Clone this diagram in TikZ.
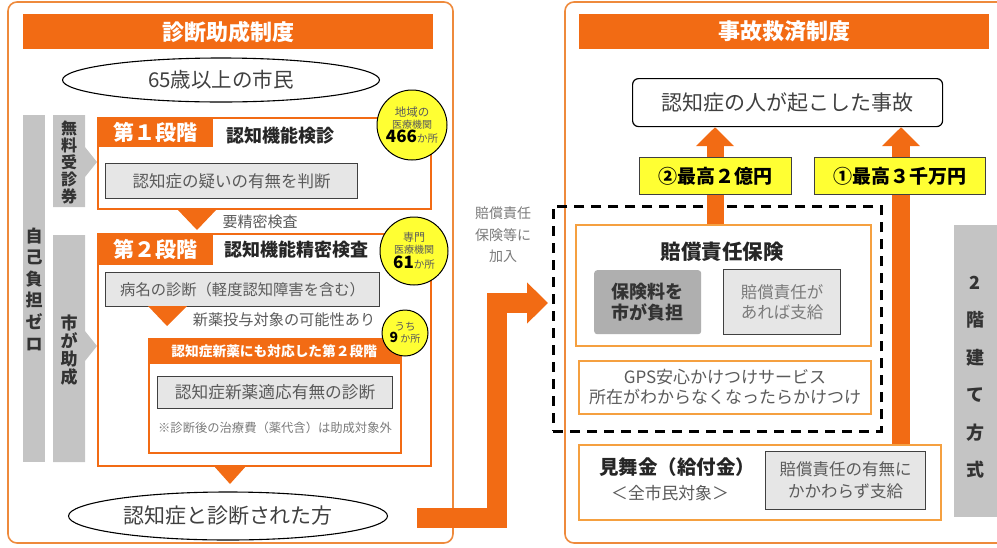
\documentclass[tikz,border=0pt]{standalone}
\usepackage{fontspec}
\setmainfont{Noto Sans CJK JP}
\usetikzlibrary{shapes.geometric, arrows.meta}
\definecolor{org}{HTML}{F26B14}
\definecolor{orgline}{HTML}{EE8A3C}
\definecolor{orgbox}{HTML}{F5A040}
\definecolor{yel}{HTML}{FFFF33}
\definecolor{txt}{HTML}{404040}
\definecolor{gtxt}{HTML}{5A5A5A}
\definecolor{ltxt}{HTML}{7A7A7A}
\definecolor{barg}{HTML}{C4C4C4}
\definecolor{lgray}{HTML}{E6E6E6}
\definecolor{dgray}{HTML}{AFAFAF}
\newcommand{\myfs}[2]{\fontsize{#1pt}{#2pt}\selectfont}
\tikzset{
 panel/.style={draw=orgline, line width=1.6pt, rounded corners=9pt},
 titlebar/.style={fill=org, text=white, font=\myfs{22}{24}\bfseries, inner sep=0pt, anchor=north west, minimum width=410pt, minimum height=35pt},
 ovalnode/.style={ellipse, draw=black, line width=1.1pt, text=txt, inner sep=0pt, font=\myfs{20.5}{22}},
 stagebox/.style={draw=org, line width=2pt, inner sep=0pt, anchor=north west},
 stagelabel/.style={fill=org, text=white, font=\myfs{21}{21}\bfseries, inner sep=0pt, anchor=north west, minimum width=116pt},
 stagetitle/.style={text=black!85, font=\myfs{18}{18}\bfseries, inner sep=0pt},
 graybox/.style={fill=lgray, draw=txt, line width=1.2pt, text=gtxt, inner sep=0pt, anchor=north west, align=center},
 plain/.style={text=gtxt, inner sep=0pt, align=center},
 ycircle/.style={circle, fill=yel, draw=black, line width=1pt, inner sep=0pt, align=center, text=gtxt},
 sidebar/.style={fill=barg},
 vlabel/.style={align=center, text=black!80, inner sep=0pt},
 ybox/.style={fill=yel, draw=txt, line width=1pt, inner sep=0pt, anchor=north west, minimum height=37pt, font=\myfs{19}{19}\bfseries, text=black},
 subbox/.style={draw=orgbox, line width=2pt, inner sep=0pt, anchor=north west, align=center},
 tri/.style={fill=org},
 bigarrow/.style={draw=org, line width=20pt, line join=miter, -{Triangle[width=40pt,length=21pt]}},
 uparrow/.style={draw=org, -{Triangle[width=37pt,length=19pt]}},
}
\begin{document}
\begin{tikzpicture}[x=1pt,y=-1pt]
\useasboundingbox (0,0) rectangle (997,547);
% ================= LEFT PANEL =================
\draw[panel] (8,2) rectangle (453,543);
\node[titlebar] (lt) at (23,14) {診断助成制度};
\node[ovalnode, minimum width=317pt, minimum height=44pt] (e1) at (221,80) {65歳以上の市民};
% side bars
\fill[sidebar] (23,115) rectangle (45,462);
\node[vlabel, font=\myfs{17}{21.6}\bfseries] (jiko) at (34,289) {自\\己\\負\\担\\ゼ\\ロ};
\fill[sidebar] (53,115) -- (85,115) -- (85,147) -- (97,162) -- (85,177) -- (85,207) -- (53,207) -- cycle;
\node[vlabel, font=\myfs{16}{17}\bfseries] (muryo) at (69,162) {無\\料\\受\\診\\券};
\fill[sidebar] (53,235) -- (85,235) -- (85,331) -- (97,346) -- (85,361) -- (85,462) -- (53,462) -- cycle;
\node[vlabel, font=\myfs{17}{18}\bfseries] (shi) at (69,350) {市\\が\\助\\成};
% stage 1
\node[stagebox, minimum width=333pt, minimum height=91pt] (s1) at (97,117) {};
\node[stagelabel, minimum height=30pt] (s1l) at (97,117) {第１段階};
\node[stagetitle] (s1t) at (280,136) {認知機能検診};
\node[graybox, minimum width=252pt, minimum height=35pt, font=\myfs{16.5}{18}] (g1) at (105,163) {認知症の疑いの有無を判断};
\fill[tri] (177,209) -- (217,209) -- (197,230) -- cycle;
\node[plain, font=\myfs{15}{16}] (yo) at (260,222) {要精密検査};
% stage 2
\node[stagebox, minimum width=333pt, minimum height=232pt] (s2) at (97,233) {};
\node[stagelabel, minimum height=32pt] (s2l) at (97,233) {第２段階};
\node[stagetitle] (s2t) at (296,250) {認知機能精密検査};
\node[graybox, minimum width=274pt, minimum height=34pt, font=\myfs{15.3}{17}] (g2) at (105,272) {病名の診断（軽度認知障害を含む）};
\fill[tri] (148,306) -- (187,306) -- (167,326) -- cycle;
\node[plain, font=\myfs{15.2}{16}] (shin) at (284,320) {新薬投与対象の可能性あり};
\node[stagebox, minimum width=252pt, minimum height=114pt] (s3) at (148,338) {};
\node[fill=org, text=white, inner sep=0pt, anchor=north west, minimum width=252pt, minimum height=26pt, font=\myfs{13.7}{14}\bfseries] (s3l) at (148,338) {認知症新薬にも対応した第２段階};
\node[graybox, minimum width=235pt, minimum height=32pt, font=\myfs{16.7}{18}] (g3) at (157,376) {認知症新薬適応有無の診断};
\node[plain, font=\myfs{12.3}{13}, text=ltxt] (note) at (275,428) {※診断後の治療費（薬代含）は助成対象外};
\fill[tri] (213,465) -- (247,465) -- (230,484) -- cycle;
\node[ovalnode, minimum width=319pt, minimum height=48pt, font=\myfs{21}{22}] (e2) at (228,516) {認知症と診断された方};
% yellow circles
\node[ycircle, minimum size=70pt] (c1) at (412,125) {\myfs{11.5}{14}地域の\\医療機関\\{\myfs{17}{15}\bfseries\color{black}466}{\myfs{10.5}{10}か所}};
\node[ycircle, minimum size=68pt] (c2) at (414,251) {\myfs{11}{14}専門\\医療機関\\{\myfs{17}{15}\bfseries\color{black}61}{\myfs{10.5}{10}か所}};
\node[ycircle, minimum size=46pt] (c3) at (405,333) {\myfs{10.5}{16}うち\\{\myfs{14}{14}\bfseries\color{black}9}{\myfs{10}{10} か所}};
% ================= RIGHT PANEL =================
\draw[panel] (565,2) rectangle (1010,543);
\node[titlebar] (rt) at (579,14) {事故救済制度};
\node[draw=black, line width=1.2pt, rounded corners=6pt, inner sep=0pt, anchor=north west, minimum width=310pt, minimum height=48pt, text=txt, font=\myfs{21}{22}] (acc) at (632,78) {認知症の人が起こした事故};
% dashed enrolment box
\node[draw=black, dashed, line width=2.5pt, dash pattern=on 10pt off 7pt, inner sep=0pt, anchor=north west, minimum width=328pt, minimum height=225pt] (dbox) at (552,205) {};
\node[plain, text=ltxt, font=\myfs{14}{21.5}] (kanyu) at (503,235) {賠償責任\\保険等に\\加入};
% boxes
\node[subbox, minimum width=295pt, minimum height=121pt, fill=white] (ins) at (575,224) {};
\node[subbox, minimum width=362pt, minimum height=75pt, fill=white] (mim) at (578,444) {};
% up arrows
\coordinate (a2s) at (715,224);
\coordinate (a1s) at (901,444);
\draw[uparrow, line width=17pt] (a2s) -- (acc.south -| a2s);
\draw[uparrow, line width=18pt] (a1s) -- (acc.south -| a1s);
\node[ybox, minimum width=152pt] (y2) at (639,157) {②最高２億円};
\node[ybox, minimum width=171pt] (y1) at (814,157) {①最高３千万円};
% insurance contents
\node[stagetitle, font=\myfs{20.5}{21}\bfseries] (inst) at (722,252) {賠償責任保険};
\node[fill=dgray, rounded corners=3pt, inner sep=0pt, anchor=north west, minimum width=107pt, minimum height=64pt, align=center, text=black!80, font=\myfs{18}{21}\bfseries] (db) at (594,270) {保険料を\\市が負担};
\node[graybox, minimum width=117pt, minimum height=65pt, text=ltxt, font=\myfs{16.5}{20}] (lb) at (723,269) {賠償責任が\\あれば支給};
\node[subbox, minimum width=292pt, minimum height=53pt, text=gtxt, font=\myfs{17}{20}] (gps) at (578,360) {GPS安心かけつけサービス\\所在がわからなくなったらかけつけ};
% mimai contents
\node[inner sep=0pt, text=black!85, font=\myfs{19.5}{20}\bfseries] (mimt) at (677,467) {見舞金（給付金）};
\node[plain, font=\myfs{16.8}{18}] (mims) at (670,493) {＜全市民対象＞};
\node[graybox, minimum width=160pt, minimum height=58pt, font=\myfs{16.5}{22}] (mg) at (765,451) {賠償責任の有無に\\かかわらず支給};
% two-storey bar
\fill[sidebar] (954,225) rectangle (1000,517);
\node[vlabel, font=\myfs{18}{37.5}\bfseries] (nikai) at (975,377) {2\\階\\建\\て\\方\\式};
% big arrow from left panel to enrolment box
\coordinate (bas) at (417,517.5);
\coordinate (bat) at (548,303);
\draw[bigarrow] (bas) -- (497,517.5) -- (497,303) -- (bat);
\end{tikzpicture}
\end{document}
